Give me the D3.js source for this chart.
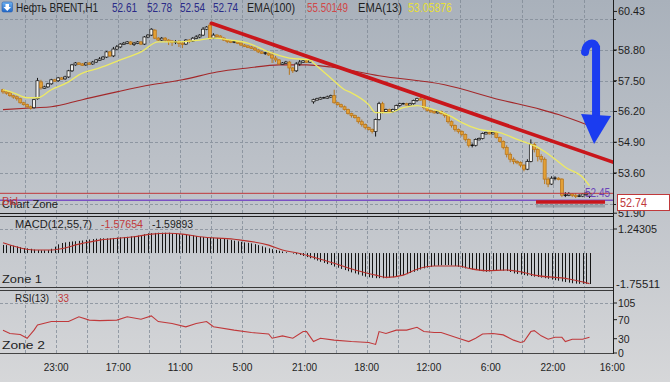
<!DOCTYPE html>
<html><head><meta charset="utf-8">
<script src="https://cdn.jsdelivr.net/npm/d3@7"></script>
<style>body{margin:0;background:#c4c8cd;} svg{display:block;font-family:"Liberation Sans",Arial,sans-serif;}</style>
</head><body><svg id="c" width="670" height="382"></svg>
<script>
// ---------- DATA ----------
const openP = [57.12,57.03,56.99,56.87,56.82,56.74,56.57,56.49,56.40,56.36,
56.74,57.45,57.20,57.24,57.37,57.54,57.50,57.62,57.58,57.66,
57.92,58.17,58.25,58.21,58.17,58.25,58.21,58.29,58.38,58.42,
58.50,58.72,58.55,58.84,58.93,59.05,59.09,59.14,59.05,59.09,
59.14,59.05,59.35,59.43,59.64,59.30,59.22,59.30,59.22,59.18,
59.14,59.14,59.09,59.05,59.22,59.18,59.30,59.35,59.43,59.68,
59.85,59.30,59.43,59.39,59.30,59.22,59.18,59.14,59.14,59.09,
59.01,58.97,58.93,58.88,58.80,58.72,58.67,58.67,58.59,58.46,
58.38,58.21,58.25,58.29,58.04,57.92,58.21,58.29,58.34,58.29,
56.61,56.70,56.74,56.78,56.78,56.82,56.87,56.57,56.49,56.40,
56.28,56.11,56.03,55.94,55.77,55.65,55.52,55.44,55.35,55.86,
56.53,56.20,56.28,56.20,56.28,56.45,56.53,56.53,56.49,56.53,
56.66,56.74,56.70,56.36,56.24,56.20,56.15,56.20,56.11,56.03,
55.77,55.61,55.44,55.35,55.23,55.02,54.77,54.77,55.02,55.06,
55.27,55.31,55.27,55.31,55.10,54.93,54.68,54.39,54.18,54.09,
54.05,53.93,53.76,54.09,54.81,54.60,54.30,54.18,53.34,53.13,
53.38,53.38,53.34,52.66,52.66,52.71,52.66,52.62,52.62,52.71,52.61];
const closeP = [57.03,56.99,56.87,56.82,56.74,56.57,56.49,56.40,56.36,56.70,
57.50,57.20,57.24,57.37,57.54,57.50,57.62,57.58,57.66,57.92,
58.17,58.25,58.21,58.17,58.25,58.21,58.29,58.38,58.42,58.50,
58.72,58.55,58.84,58.93,59.05,59.09,59.14,59.05,59.09,59.14,
59.05,59.35,59.43,59.68,59.30,59.22,59.30,59.22,59.18,59.14,
59.14,59.09,59.05,59.22,59.18,59.30,59.35,59.43,59.68,59.77,
59.30,59.43,59.39,59.30,59.22,59.18,59.14,59.14,59.09,59.01,
58.97,58.93,58.88,58.80,58.72,58.67,58.67,58.59,58.46,58.38,
58.21,58.25,58.29,58.04,57.92,58.21,58.29,58.34,58.29,58.38,
56.70,56.74,56.78,56.78,56.82,56.87,56.57,56.49,56.40,56.28,
56.11,56.03,55.94,55.77,55.65,55.52,55.44,55.35,55.86,56.53,
56.20,56.28,56.20,56.28,56.45,56.53,56.53,56.49,56.53,56.66,
56.74,56.70,56.36,56.24,56.20,56.15,56.20,56.11,56.03,55.77,
55.61,55.44,55.35,55.23,55.02,54.77,54.77,55.02,55.06,55.27,
55.31,55.27,55.31,55.10,54.93,54.68,54.39,54.18,54.09,54.05,
53.93,53.76,54.09,54.81,54.60,54.30,54.18,53.34,53.13,53.38,
53.38,53.34,52.66,52.66,52.71,52.66,52.62,52.62,52.71,52.75,52.74];
const highP = [57.16,57.08,57.03,56.91,56.87,56.78,56.61,56.53,56.45,56.74,
57.62,57.54,57.29,57.41,57.58,57.58,57.66,57.66,57.71,57.96,
58.21,58.29,58.29,58.25,58.29,58.29,58.34,58.42,58.50,58.55,
58.76,58.76,58.93,59.01,59.09,59.14,59.18,59.18,59.14,59.18,
59.18,59.39,59.47,59.72,59.68,59.35,59.35,59.35,59.26,59.22,
59.22,59.22,59.18,59.26,59.26,59.35,59.43,59.47,59.77,59.81,
59.93,59.51,59.47,59.43,59.35,59.26,59.22,59.18,59.18,59.14,
59.05,59.01,58.97,58.93,58.84,58.76,58.72,58.72,58.72,58.55,
58.42,58.29,58.34,58.34,58.08,58.29,58.38,58.38,58.38,58.42,
56.74,56.78,56.82,56.82,56.87,56.91,57.12,56.61,56.53,56.45,
56.32,56.15,56.07,55.98,55.86,55.69,55.56,55.48,55.90,56.61,
56.61,56.32,56.32,56.32,56.49,56.57,56.57,56.57,56.57,56.70,
56.78,56.82,56.74,56.40,56.28,56.24,56.24,56.24,56.15,56.07,
55.82,55.65,55.48,55.40,55.27,55.06,54.85,55.06,55.10,55.31,
55.35,55.35,55.35,55.35,55.14,54.98,54.77,54.47,54.26,54.14,
54.09,53.97,54.18,55.02,54.89,54.64,54.39,54.26,53.42,53.46,
53.46,53.42,53.38,52.79,52.79,52.75,52.75,52.71,52.75,52.79,52.78];
const lowP = [56.95,56.91,56.82,56.74,56.66,56.53,56.45,56.36,56.28,56.32,
56.70,57.12,57.16,57.20,57.33,57.45,57.45,57.54,57.54,57.62,
57.87,58.13,58.17,58.13,58.13,58.17,58.17,58.25,58.34,58.38,
58.46,58.50,58.50,58.80,58.88,59.01,59.05,59.01,58.97,59.05,
59.01,59.01,59.30,59.39,59.26,59.18,59.18,59.14,59.01,58.97,
59.05,58.93,58.88,59.01,59.09,59.14,59.26,59.30,59.39,59.64,
59.22,59.26,59.30,59.26,59.18,59.09,59.09,59.09,59.05,58.97,
58.93,58.88,58.84,58.76,58.67,58.63,58.59,58.55,58.25,58.29,
58.17,58.17,58.21,57.75,57.83,57.87,58.13,58.25,58.25,58.25,
56.53,56.66,56.70,56.74,56.74,56.78,56.53,56.45,56.36,56.24,
56.07,55.94,55.90,55.69,55.56,55.44,55.40,55.27,55.14,55.82,
56.11,56.15,56.15,56.15,56.24,56.40,56.49,56.45,56.45,56.49,
56.61,56.66,56.28,56.20,56.15,56.11,56.11,56.07,55.94,55.69,
55.52,55.35,55.27,55.14,54.93,54.68,54.68,54.72,54.98,55.02,
55.23,55.23,55.23,55.06,54.89,54.60,54.26,54.05,53.97,53.97,
53.84,53.67,53.72,54.05,54.47,54.09,54.05,53.13,53.00,53.09,
53.29,53.29,52.58,52.58,52.62,52.58,52.54,52.58,52.58,52.62,52.54];

const ema13Idx = [0,3,7,10,14,19,22,28,34,40,45,49,57,61,66,71,77,83,89,90,95,99,101,106,108,112,116,120,123,130,133,138,144,149,155,159,163,168,170];
const ema13Val = [57.12,56.99,56.78,56.78,57.12,57.45,57.75,58.04,58.38,58.72,59.14,59.14,59.22,59.30,59.22,59.09,58.72,58.46,58.38,58.25,57.62,57.12,56.99,56.49,56.15,56.15,56.36,56.45,56.36,55.98,55.73,55.44,55.31,55.02,54.68,54.30,53.84,53.42,53.06];
const ema100Idx = [0,9,14,23,33,43,52,62,71,80,88,95,109,128,144,156,161,170];
const ema100Val = [56.28,56.36,56.40,56.70,57.03,57.33,57.54,57.87,58.04,58.17,58.17,58.08,57.71,57.33,56.70,56.28,56.07,55.60];

const macdHist = [0.42,0.41,0.40,0.38,0.34,0.30,0.26,0.24,0.22,0.18,
0.15,0.14,0.14,0.15,0.22,0.33,0.45,0.52,0.55,0.58,
0.60,0.61,0.63,0.65,0.68,0.70,0.72,0.74,0.76,0.76,
0.76,0.76,0.78,0.80,0.81,0.83,0.84,0.86,0.88,0.90,
0.93,0.97,1.02,1.03,1.04,1.05,1.05,1.05,1.05,1.03,
1.01,0.98,0.97,0.95,0.93,0.91,0.88,0.84,0.83,0.82,
0.80,0.79,0.78,0.76,0.73,0.70,0.67,0.64,0.61,0.58,
0.55,0.53,0.50,0.46,0.41,0.35,0.29,0.24,0.20,0.16,
0.12,0.08,0.04,0.00,-0.03,-0.07,-0.10,-0.15,-0.21,-0.27,
-0.33,-0.39,-0.45,-0.51,-0.57,-0.62,-0.70,-0.76,-0.82,-0.88,
-0.94,-1.00,-1.05,-1.11,-1.17,-1.22,-1.25,-1.28,-1.30,-1.30,
-1.30,-1.30,-1.28,-1.25,-1.22,-1.18,-1.14,-1.09,-1.03,-0.97,
-0.91,-0.85,-0.79,-0.75,-0.71,-0.67,-0.65,-0.63,-0.62,-0.62,
-0.64,-0.67,-0.71,-0.75,-0.79,-0.82,-0.85,-0.88,-0.91,-0.94,
-0.97,-0.95,-0.92,-0.88,-0.89,-0.91,-0.93,-0.98,-1.05,-1.08,
-1.11,-1.14,-1.17,-1.19,-1.22,-1.24,-1.27,-1.30,-1.33,-1.37,
-1.40,-1.43,-1.47,-1.50,-1.53,-1.56,-1.58,-1.59,-1.59,-1.59,-1.60];
const sigIdx = [0,9,14,23,28,38,43,48,52,57,67,77,81,86,91,96,102,108,111,116,120,125,132,135,140,146,150,154,164,170];
const sigVal = [0.53,0.16,0.16,0.50,0.67,0.84,0.98,1.02,0.98,0.84,0.71,0.41,0.16,-0.02,-0.27,-0.53,-0.88,-1.14,-1.26,-1.14,-0.84,-0.67,-0.67,-0.79,-0.91,-0.88,-0.97,-1.14,-1.34,-1.58];

const rsiIdx = [0,2,5,7,9,10,14,19,22,25,28,33,36,40,43,45,49,53,56,59,61,67,72,77,78,81,84,87,88,90,92,96,101,106,108,109,111,114,117,120,122,125,127,132,135,137,139,142,145,148,150,151,153,154,156,158,160,162,163,165,168,170];
const rsiVal = [48,41,39,31,48,59,66,66,76,69,68,69,76,71,78,66,62,55,62,66,55,48,43,40,31,36,31,45,45,24,31,27,24,22,18,45,41,48,48,54,45,43,43,31,24,31,40,41,38,27,22,24,45,47,36,29,33,33,24,29,29,33];

const priceGrid = [60.10,58.80,57.50,56.20,54.90,53.60,52.30];
const priceTicks = [60.43,58.80,57.50,56.20,54.90,53.60,51.90];
const macdTicks = [1.24305,-1.75511];
const rsiTicks = [105,70,30,0];
const gridIdx = [6.4,15.4,24.4,33.4,42.4,51.4,60.4,69.4,78.4,87.4,96.4,105.4,114.4,123.4,132.4,141.4,150.4,159.4,168.4];
const timeLabels = ["23:00","17:00","11:00","5:00","21:00","18:00","12:00","6:00","22:00","16:00"];
const timeIdx = [15.4,33.4,51.4,69.4,87.4,105.4,123.4,141.4,159.4,176.6];

const bidPrice = 52.74, askPrice = 52.45;
const trendLine = [[60.4,59.93],[176.8,54.06]];
const supportLine = [[154.5,52.37],[174.5,52.37]];
const arrowAnchor = [171.9,58.97];

// ---------- SCALES ----------
const svg = d3.select("#c");
const W = 670, H = 382, RX = 613;
const x = d3.scaleLinear().domain([0,170]).range([3,589.5]);
const y = d3.scaleLinear().domain([51.908,60.914]).range([213,0]);
const yM = d3.scaleLinear().domain([-1.75511,1.24305]).range([287,229]);
const yR = d3.scaleLinear().domain([0,105]).range([353,303]);

const defs = svg.append("defs");
const g1 = defs.append("linearGradient").attr("id","bg").attr("x1",0).attr("y1",0).attr("x2",0).attr("y2",1);
g1.append("stop").attr("offset","0").attr("stop-color","#a9b1bb");
g1.append("stop").attr("offset","0.55").attr("stop-color","#c1c5cb");
g1.append("stop").attr("offset","1").attr("stop-color","#d6d7d9");
const g2 = defs.append("linearGradient").attr("id","ic").attr("x1",0).attr("y1",0).attr("x2",0).attr("y2",1);
g2.append("stop").attr("offset","0").attr("stop-color","#6fb2f0");
g2.append("stop").attr("offset","1").attr("stop-color","#1f66c8");
defs.append("clipPath").attr("id","cm").append("rect").attr("x",0).attr("y",0).attr("width",RX).attr("height",213);
defs.append("clipPath").attr("id","cd").append("rect").attr("x",0).attr("y",216).attr("width",RX).attr("height",71);
defs.append("clipPath").attr("id","cr").append("rect").attr("x",0).attr("y",290).attr("width",RX).attr("height",63);

svg.append("rect").attr("width",W).attr("height",H).attr("fill","url(#bg)");

// ---------- GRID ----------
const gridC = "#7f8995";
const panels = [[0,213],[216,287],[290,353]];
const grid = svg.append("g").attr("stroke",gridC).attr("stroke-width",1).attr("stroke-dasharray","3,2").attr("opacity",0.75);
panels.forEach(p=>{
  grid.selectAll(null).data(gridIdx).join("line")
    .attr("x1",d=>Math.round(x(d))+0.5).attr("x2",d=>Math.round(x(d))+0.5).attr("y1",p[0]).attr("y2",p[1]);
});
grid.selectAll(null).data(priceGrid).join("line")
  .attr("x1",0).attr("x2",RX).attr("y1",d=>Math.round(y(d))+0.5).attr("y2",d=>Math.round(y(d))+0.5);
grid.append("line").attr("x1",0).attr("x2",RX).attr("y1",Math.round(yM(1.24305))+0.5).attr("y2",Math.round(yM(1.24305))+0.5);
grid.append("line").attr("x1",0).attr("x2",RX).attr("y1",Math.round(yR(105))+0.5).attr("y2",Math.round(yR(105))+0.5);

// ---------- MAIN PANEL ----------
const main = svg.append("g").attr("clip-path","url(#cm)");
const idx = d3.range(openP.length);
const lineGen = (xs, vs, ys) => d3.line().curve(d3.curveMonotoneX).x((d,i)=>x(xs[i])).y((d,i)=>ys(vs[i]))(vs);

main.append("path").attr("d",lineGen(ema100Idx,ema100Val,y)).attr("fill","none").attr("stroke","#a3282a").attr("stroke-width",1.1);

const candleG = main.append("g");
idx.forEach(i=>{
  const o=openP[i], c=closeP[i];
  const kind = Math.abs(o-c)<0.005 ? "d" : (c>o ? "u" : "b");
  const wc = kind==="b" ? "#b8761c" : "#151515";
  candleG.append("line").attr("x1",x(i)).attr("x2",x(i)).attr("y1",y(highP[i])).attr("y2",y(lowP[i]))
    .attr("stroke",wc).attr("stroke-width",1);
  if(kind==="d"){
    candleG.append("line").attr("x1",x(i)-1.6).attr("x2",x(i)+1.6).attr("y1",y(o)).attr("y2",y(o)).attr("stroke","#111").attr("stroke-width",1.3);
  } else {
    const t=Math.min(y(o),y(c)), h=Math.max(1.4,Math.abs(y(o)-y(c)));
    candleG.append("rect").attr("x",x(i)-1.5).attr("y",t).attr("width",3).attr("height",h)
      .attr("fill",kind==="u"?"#f0f0ee":"#e3a036").attr("stroke",kind==="u"?"#1a1a1a":"#b8761c").attr("stroke-width",0.75);
  }
});

main.append("path").attr("d",lineGen(ema13Idx,ema13Val,y)).attr("fill","none").attr("stroke","#eeea62").attr("stroke-width",1.3);

// bid / ask lines
main.append("line").attr("x1",0).attr("x2",RX).attr("y1",y(bidPrice)).attr("y2",y(bidPrice)).attr("stroke","#c0393b").attr("stroke-width",1);
main.append("line").attr("x1",0).attr("x2",RX).attr("y1",y(askPrice)).attr("y2",y(askPrice)).attr("stroke","#7a52c4").attr("stroke-width",1.4);

// trend & support lines
main.append("line").attr("x1",x(trendLine[0][0])).attr("y1",y(trendLine[0][1])).attr("x2",x(trendLine[1][0])).attr("y2",y(trendLine[1][1]))
  .attr("stroke","#c9161b").attr("stroke-width",3.6).attr("stroke-linecap","round");
main.append("line").attr("x1",x(supportLine[0][0])).attr("y1",y(supportLine[0][1])+4).attr("x2",x(supportLine[1][0])).attr("y2",y(supportLine[1][1])+4)
  .attr("stroke","#6f7782").attr("stroke-width",3).attr("opacity",0.45);
main.append("line").attr("x1",x(supportLine[0][0])).attr("y1",y(supportLine[0][1])).attr("x2",x(supportLine[1][0])).attr("y2",y(supportLine[1][1]))
  .attr("stroke","#c9161b").attr("stroke-width",3.6);

// blue arrow
const ax = x(arrowAnchor[0]), ay = y(arrowAnchor[1]);
main.append("path").attr("d",`M${ax-11},${ay+6} C${ax-10},${ay-3} ${ax-2},${ay-5} ${ax},${ay+1} L${ax},${ay+72}`)
  .attr("fill","none").attr("stroke","#1b3cf0").attr("stroke-width",8).attr("stroke-linecap","round");
main.append("path").attr("d",`M${ax-15},${ay+68} L${ax+15},${ay+70} L${ax-2},${ay+98} Z`).attr("fill","#1b3cf0");

// ---------- MACD PANEL ----------
const macdG = svg.append("g").attr("clip-path","url(#cd)");
macdG.selectAll(null).data(macdHist).join("line")
  .attr("x1",(d,i)=>Math.round(x(i))+0.5).attr("x2",(d,i)=>Math.round(x(i))+0.5)
  .attr("y1",yM(0)).attr("y2",d=>yM(d)).attr("stroke","#151515").attr("stroke-width",1);
macdG.append("path").attr("d",lineGen(sigIdx,sigVal,yM)).attr("fill","none").attr("stroke","#b8302c").attr("stroke-width",1.1);

// ---------- RSI PANEL ----------
const rsiG = svg.append("g").attr("clip-path","url(#cr)");
rsiG.append("path").attr("d",d3.line().x((d,i)=>x(rsiIdx[i])).y(d=>yR(d))(rsiVal))
  .attr("fill","none").attr("stroke","#c0393b").attr("stroke-width",1.1);

// ---------- FRAMES ----------
const fr = svg.append("g").attr("stroke","#1e1e1e").attr("stroke-width",1);
fr.append("line").attr("x1",0).attr("x2",RX).attr("y1",213.5).attr("y2",213.5);
fr.append("line").attr("x1",0).attr("x2",RX).attr("y1",216.5).attr("y2",216.5);
fr.append("line").attr("x1",0).attr("x2",RX).attr("y1",287.5).attr("y2",287.5).attr("stroke","#3a3a3a");
fr.append("line").attr("x1",0).attr("x2",RX).attr("y1",290.5).attr("y2",290.5).attr("stroke","#3a3a3a");
fr.append("line").attr("x1",0).attr("x2",RX).attr("y1",353.5).attr("y2",353.5).attr("stroke","#444");
fr.append("line").attr("x1",RX+0.5).attr("x2",RX+0.5).attr("y1",0).attr("y2",354);

// ---------- TEXT ----------
function txt(str, tx, ty, fill, w, opts={}){
  const t = svg.append("text").attr("x",tx).attr("y",ty).attr("fill",fill)
    .attr("font-size",opts.size||11).text(str);
  if(w){ t.attr("textLength",w).attr("lengthAdjust","spacingAndGlyphs"); }
  if(opts.anchor) t.attr("text-anchor",opts.anchor);
  return t;
}
// right axis ticks + labels
const tk = svg.append("g").attr("stroke","#1e1e1e");
priceTicks.forEach(v=>{
  tk.append("line").attr("x1",RX).attr("x2",RX+4).attr("y1",y(v)).attr("y2",y(v));
  txt(v.toFixed(2), 618, y(v)+4, "#1e1e1e", 27, {size:11.5});
});
priceGrid.forEach(v=>{ tk.append("line").attr("x1",RX).attr("x2",RX+3).attr("y1",Math.round(y(v))+0.5).attr("y2",Math.round(y(v))+0.5); });
tk.append("line").attr("x1",RX).attr("x2",RX+4).attr("y1",yM(macdTicks[0])).attr("y2",yM(macdTicks[0]));
txt(macdTicks[0].toFixed(5), 618, yM(macdTicks[0])+4, "#1e1e1e", 39, {size:11.5});
txt(macdTicks[1].toFixed(5), 616, yM(macdTicks[1])+1, "#1e1e1e", 44, {size:11.5});
rsiTicks.forEach(v=>{
  tk.append("line").attr("x1",RX).attr("x2",RX+4).attr("y1",yR(v)).attr("y2",yR(v));
  const s=String(v);
  txt(s, 618, yR(v)+4, "#1e1e1e", s.length*5.8, {size:11.5});
});
// bid box
svg.append("rect").attr("x",617.5).attr("y",194.5).attr("width",52).attr("height",16).attr("fill","#ffffff").attr("stroke","#c0393b");
txt(bidPrice.toFixed(2), 620, 207, "#c0393b", 27, {size:12});
txt(askPrice.toFixed(2), 585, 197, "#6b44b8", 25, {size:12});

// time axis
timeLabels.forEach((s,i)=>{
  txt(s, x(timeIdx[i]), 371, "#1e1e1e", s.length===5?25:20, {anchor:"middle", size:11.5});
});

// header
svg.append("rect").attr("x",2).attr("y",2).attr("width",10.5).attr("height",10).attr("rx",1.5).attr("fill","url(#ic)").attr("stroke","#2a5fae").attr("stroke-width",0.6);
svg.append("path").attr("d","M5.5,4 L9,4 L9,7 L11,7 L7.25,11 L3.5,7 L5.5,7 Z").attr("fill","#ffffff");
const hs = {size:12};
txt("Нефть BRENT,H1", 16, 11.5, "#1e1e1e", 82, hs);
txt("52.61", 112, 11.5, "#2b2b88", 25, hs);
txt("52.78", 147, 11.5, "#2b2b88", 25, hs);
txt("52.54", 180, 11.5, "#2b2b88", 25, hs);
txt("52.74", 213, 11.5, "#2b2b88", 25, hs);
txt("EMA(100)", 247, 11.5, "#1e1e1e", 48, hs);
txt("55.50149", 307, 11.5, "#d04848", 41, hs);
txt("EMA(13)", 358, 11.5, "#1e1e1e", 44, hs);
txt("53.05876", 408, 11.5, "#e6df3a", 44, hs);

txt("Chart Zone", 2, 208, "#1e1e1e", 56, {size:11.5});
txt("Bid", 2, 205, "#c0393b", 16, {size:11.5});

txt("MACD(12,55,7)", 15, 228, "#1e1e1e", 77, {size:11.5});
txt("-1.57654", 101, 228, "#c0393b", 42, {size:11.5});
txt("-1.59893", 152, 228, "#1e1e1e", 41, {size:11.5});
txt("Zone 1", 2, 283, "#1e1e1e", 40, {size:11.5});

txt("RSI(13)", 15, 302, "#1e1e1e", 34, {size:11.5});
txt("33", 58, 302, "#c0393b", 11, {size:11.5});
txt("Zone 2", 2, 349, "#1e1e1e", 43, {size:11.5});
</script></body></html>
